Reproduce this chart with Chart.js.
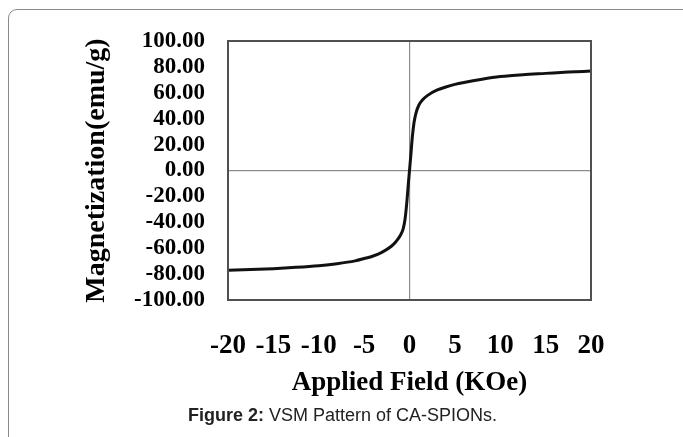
<!DOCTYPE html>
<html>
<head>
<meta charset="utf-8">
<script src="https://cdn.jsdelivr.net/npm/chart.js@4"></script>
<style>
	body { margin: 0; width: 683px; height: 437px; overflow: hidden; background: #fff; position: relative; }
	#frame { position: absolute; left: 8px; top: 9px; width: 720px; height: 500px; border: 1.5px solid #8a8a8a; border-radius: 9px; }
	#vsm { position: absolute; left: 0; top: 0; }
	#caption { position: absolute; left: 188px; top: 405px; font-family: "Liberation Sans", Arial, sans-serif; font-size: 18px; color: #222; white-space: nowrap; }
</style>
</head>
<body>
<div id="frame"></div>
<canvas id="vsm" width="683" height="437"></canvas>
<div id="caption"><b>Figure 2:</b> VSM Pattern of CA-SPIONs.</div>
<script>
// applied field (KOe) and magnetization (emu/g)
var field = [-20, -17.5, -15, -12.5, -10, -8, -6, -5, -4, -3, -2, -1.5, -1, -0.7, -0.5, -0.3, -0.15, 0,
	0.15, 0.3, 0.5, 0.7, 1, 1.5, 2, 3, 4, 5, 6, 8, 10, 12.5, 15, 17.5, 20]
var magnet = [-77, -76.5, -75.8, -74.8, -73.5, -72, -69.8, -68, -66, -63, -58.5, -55, -50, -45, -38, -25, -12, 0,
	12, 25, 37, 44, 50, 55, 58, 62, 64.5, 66.5, 68, 70.5, 72.5, 74, 75, 76, 76.8]
var xTicks = [-20, -15, -10, -5, 0, 5, 10, 15, 20]
var yTicks = [100, 80, 60, 40, 20, 0, -20, -40, -60, -80, -100]

var points = []
for (i = 0; i < field.length; i++)
	points.push({x: field[i], y: magnet[i]})

var serif = "'Liberation Serif', 'Times New Roman', serif"

// box round the plot area
var boxPlugin = {
	id: 'box',
	afterDatasetsDraw: function(chart)
	{
		var a = chart.chartArea
		var c = chart.ctx
		c.save()
		c.strokeStyle = '#505050'
		c.lineWidth = 2
		c.strokeRect(a.left, a.top, a.right - a.left, a.bottom - a.top)
		c.restore()
	}
}

function zeroGrid(ctx)
{
	return ctx.tick && ctx.tick.value === 0 ? '#8c8c8c' : 'rgba(0,0,0,0)'
}

new Chart(document.getElementById('vsm'), {
	type: 'line',
	data: {
		datasets: [{
			data: points,
			borderColor: '#111',
			borderWidth: 3,
			pointRadius: 0,
			fill: false,
			cubicInterpolationMode: 'monotone'
		}]
	},
	plugins: [boxPlugin],
	options: {
		responsive: false,
		animation: false,
		layout: { padding: { left: 80, right: 92, top: 41, bottom: 34 } },
		plugins: { legend: { display: false }, tooltip: { enabled: false } },
		scales: {
			x: {
				type: 'linear',
				min: -20,
				max: 20,
				afterBuildTicks: function(s) { s.ticks = xTicks.map(function(v) { return {value: v} }) },
				afterFit: function(s) { s.height = 103 },
				border: { display: false },
				grid: { color: zeroGrid, lineWidth: 1.2, drawTicks: false },
				ticks: { color: '#000', padding: 30, maxRotation: 0, autoSkip: false, font: { family: serif, size: 27, weight: 'bold' } },
				title: { display: true, text: 'Applied Field (KOe)', color: '#000', padding: { top: 6 }, font: { family: serif, size: 27, weight: 'bold' } }
			},
			y: {
				min: -100,
				max: 100,
				afterBuildTicks: function(s) { s.ticks = yTicks.map(function(v) { return {value: v} }) },
				afterFit: function(s) { s.width = 148 },
				border: { display: false },
				grid: { color: zeroGrid, lineWidth: 1.2, drawTicks: false },
				ticks: {
					color: '#000', padding: 23, autoSkip: false,
					font: { family: serif, size: 23, weight: 'bold' },
					callback: function(v) { return v.toFixed(2) }
				},
				title: { display: true, text: 'Magnetization(emu/g)', color: '#000', padding: 0, font: { family: serif, size: 28, weight: 'bold' } }
			}
		}
	}
})
</script>
</body>
</html>
